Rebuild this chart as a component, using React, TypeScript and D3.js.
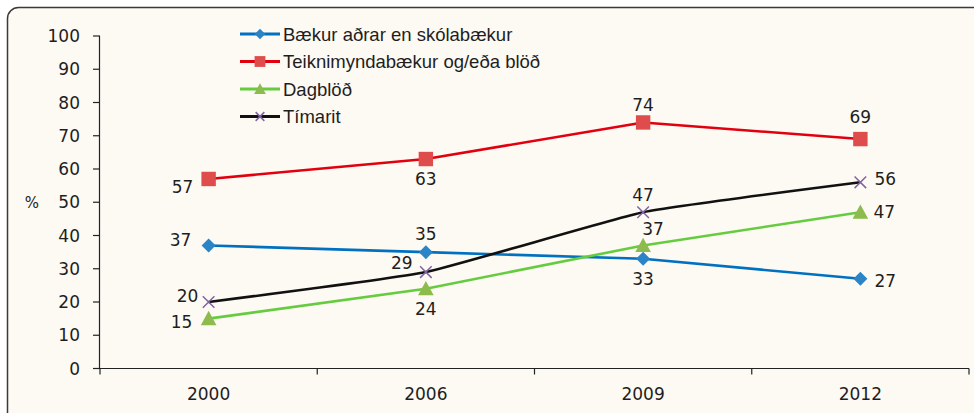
import React from "react";
import * as d3 from "d3";

const categories = ["2000", "2006", "2009", "2012"];
const seriesNames = [
  "Bækur aðrar en skólabækur",
  "Teiknimyndabækur og/eða blöð",
  "Dagblöð",
  "Tímarit",
];
const booksValues = [37, 35, 33, 27];
const comicsValues = [57, 63, 74, 69];
const newspaperValues = [15, 24, 37, 47];
const magazineValues = [20, 29, 47, 56];
const yTicks = [0, 10, 20, 30, 40, 50, 60, 70, 80, 90, 100];

// styling (not data)
const lineColors = ["#0070C0", "#E2000F", "#66CC3F", "#111111"];
const markerColors = ["#2A84C6", "#DE4C4C", "#8DBB4E", "#8064A2"];
const markerTypes = ["diamond", "square", "triangle", "x"];
const smooth = [false, false, false, true];
// label offsets [dx, dy] relative to the point
const labelOffsets: [number, number][][] = [
  [[-28, -6], [0, -18], [0, 20], [25, 2]],
  [[-26, 8], [0, 20], [0, -18], [0, -22]],
  [[-27, 3], [0, 20], [10, -17], [24, 0]],
  [[-21, -6], [-24, -9], [0, -17], [25, -3]],
];

const W = 974;
const H = 413;
const left = 100;
const right = 969;
const top = 36;
const bottom = 368.5;

const numFont = "'DejaVu Sans', sans-serif";
const textFont = "'Liberation Sans', Arial, sans-serif";
const textColor = "#1e1e1e";

function Marker({ type, x, y, color, size = 1 }: { type: string; x: number; y: number; color: string; size?: number }) {
  if (type === "diamond") {
    const r = 7 * size;
    return <path d={`M${x},${y - r}L${x + r},${y}L${x},${y + r}L${x - r},${y}Z`} fill={color} />;
  }
  if (type === "square") {
    const r = 7.2 * size;
    return <rect x={x - r} y={y - r} width={2 * r} height={2 * r} fill={color} />;
  }
  if (type === "triangle") {
    const r = 7.8 * size;
    return <path d={`M${x},${y - r}L${x + r},${y + r * 0.85}L${x - r},${y + r * 0.85}Z`} fill={color} />;
  }
  const r = 5.8 * size;
  return (
    <path
      d={`M${x - r},${y - r}L${x + r},${y + r}M${x - r},${y + r}L${x + r},${y - r}`}
      stroke={color}
      strokeWidth={1.5}
      fill="none"
    />
  );
}

export default function App() {
  const allValues = [booksValues, comicsValues, newspaperValues, magazineValues];
  const x = d3.scaleBand<string>().domain(categories).range([left, right]).padding(0);
  const y = d3.scaleLinear().domain([0, 100]).range([bottom, top]);
  const cx = (c: string) => (x(c) as number) + x.bandwidth() / 2;
  const bounds = [...categories.map((c) => x(c) as number), right];

  const legendY = [34, 61.5, 89, 116.5];

  return (
    <svg width={W} height={H} style={{ position: "absolute", left: 0, top: 0, display: "block" }}>
      <rect x={0} y={0} width={W} height={H} fill="#ffffff" />
      <rect x={7.5} y={7.5} width={W + 20} height={H + 20} rx={11} fill="#FDF9F3" stroke="#3a3a3a" strokeWidth={1.5} />

      {/* Y axis */}
      <line x1={left - 0.5} x2={left - 0.5} y1={top} y2={bottom} stroke="#222" strokeWidth={1.2} />
      {yTicks.map((t) => (
        <g key={t}>
          <line x1={left - 7} x2={left} y1={y(t)} y2={y(t)} stroke="#222" strokeWidth={1.2} />
          <text
            x={80}
            y={y(t)}
            dy="0.36em"
            textAnchor="end"
            fontFamily={numFont}
            fontSize={17}
            fill={textColor}
          >
            {t}
          </text>
        </g>
      ))}
      <text x={32} y={y(50)} dy="0.36em" textAnchor="middle" fontFamily={numFont} fontSize={15} fill={textColor}>
        %
      </text>

      {/* X axis */}
      <line x1={left - 0.5} x2={right} y1={bottom} y2={bottom} stroke="#222" strokeWidth={1.2} />
      {bounds.map((b, i) => (
        <line key={i} x1={b} x2={b} y1={bottom} y2={bottom + 6} stroke="#222" strokeWidth={1.2} />
      ))}
      {categories.map((c) => (
        <text
          key={c}
          x={cx(c)}
          y={394}
          dy="0.36em"
          textAnchor="middle"
          fontFamily={numFont}
          fontSize={17}
          fill={textColor}
        >
          {c}
        </text>
      ))}

      {/* Lines */}
      {allValues.map((vals, si) => {
        const gen = d3
          .line<number>()
          .x((_, i) => cx(categories[i]))
          .y((v) => y(v))
          .curve(smooth[si] ? d3.curveCardinal.tension(0.6) : d3.curveLinear);
        return (
          <path
            key={si}
            d={gen(vals) || ""}
            fill="none"
            stroke={lineColors[si]}
            strokeWidth={2.6}
            strokeLinejoin="round"
          />
        );
      })}

      {/* Markers */}
      {allValues.map((vals, si) =>
        vals.map((v, i) => (
          <Marker key={`${si}-${i}`} type={markerTypes[si]} x={cx(categories[i])} y={y(v)} color={markerColors[si]} />
        ))
      )}

      {/* Data labels */}
      {allValues.map((vals, si) =>
        vals.map((v, i) => (
          <text
            key={`l${si}-${i}`}
            x={cx(categories[i]) + labelOffsets[si][i][0]}
            y={y(v) + labelOffsets[si][i][1]}
            dy="0.36em"
            textAnchor="middle"
            fontFamily={numFont}
            fontSize={17}
            fill={textColor}
          >
            {v}
          </text>
        ))
      )}

      {/* Legend */}
      {seriesNames.map((n, si) => (
        <g key={n}>
          <line x1={240} x2={280} y1={legendY[si]} y2={legendY[si]} stroke={lineColors[si]} strokeWidth={2.8} />
          <Marker type={markerTypes[si]} x={260} y={legendY[si]} color={markerColors[si]} size={0.75} />
          <text
            x={283}
            y={legendY[si]}
            dy="0.36em"
            fontFamily={textFont}
            fontSize={18.5}
            fill={textColor}
          >
            {n}
          </text>
        </g>
      ))}
    </svg>
  );
}
